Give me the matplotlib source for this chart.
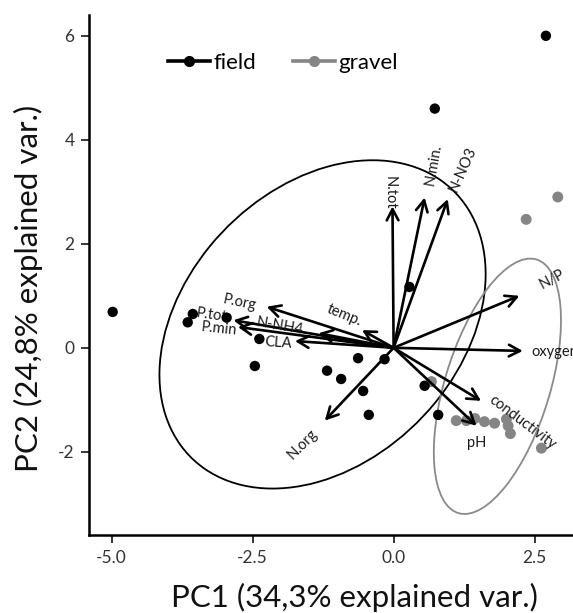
import numpy as np
import matplotlib
matplotlib.use("Agg")
from matplotlib import pyplot as plt
from matplotlib.patches import Ellipse
from matplotlib.lines import Line2D

plt.rcParams['font.family'] = ['Lato', 'DejaVu Sans']

# Puntos (scores) por grupo
field_x = [-4.98, 2.70, 0.73, 0.28, -3.56, -3.65, -2.96, -2.38, -2.46,
           -0.63, -0.16, -1.18, -0.93, -0.54, -0.44, 0.55, 0.79]
field_y = [0.69, 6.00, 4.60, 1.17, 0.65, 0.49, 0.58, 0.17, -0.35,
           -0.20, -0.22, -0.44, -0.60, -0.83, -1.29, -0.73, -1.29]

gravel_x = [2.35, 2.91, 0.67, 1.11, 1.29, 1.44, 1.61, 1.79, 2.00, 2.03, 2.07, 2.62]
gravel_y = [2.47, 2.90, -0.65, -1.40, -1.40, -1.36, -1.42, -1.45, -1.37, -1.50, -1.65, -1.93]

# Vectores de carga (variables)
variables = ['N.tot', 'N.min.', 'N-NO3', 'N/P', 'oxygen', 'conductivity', 'pH',
             'N.org', 'temp.', 'P.org', 'P.tot', 'P.min', 'N-NH4', 'CLA']
load_x = [-0.02, 0.55, 0.96, 2.23, 2.29, 1.55, 1.47, -1.22, -0.56, -2.25, -2.84, -2.76, -1.33, -1.75]
load_y = [2.72, 2.89, 2.86, 1.00, -0.06, -1.02, -1.50, -1.40, 0.34, 0.79, 0.53, 0.40, 0.28, 0.13]

# Posicion y angulo de las etiquetas
label_x = [-0.07, 0.70, 1.23, 2.80, 2.44, 2.29, 1.47, -1.61, -0.87, -2.73, -3.22, -3.09, -2.02, -2.05]
label_y = [2.99, 3.53, 3.43, 1.32, -0.09, -1.44, -1.84, -1.85, 0.62, 0.87, 0.63, 0.36, 0.42, 0.10]
label_rot = [-90, 80, 66, 28, 0, -37, 0, 45, -22, -12, -8, -6, -10, -4]
label_ha = ['center'] * 14
label_ha[4] = 'left'

# Elipses (centro, ancho, alto, angulo)
ell_field = ((-1.26, 0.45), 6.95, 5.00, 53.0)
ell_gravel = ((1.84, -0.74), 5.07, 1.87, 74.5)

fig = plt.figure(figsize=(5.73, 6.13), dpi=100)
ax = fig.add_axes([89 / 573, 1 - 535 / 613, 1 - 89 / 573, (535 - 15) / 613])

gris = '#858585'

for (c, w, h, a), col in [(ell_field, 'black'), (ell_gravel, '#8a8a8a')]:
    ax.add_patch(Ellipse(c, w, h, angle=a, fill=False, ec=col, lw=1.3, zorder=1))

ax.scatter(gravel_x, gravel_y, s=62, color=gris, edgecolors='none', zorder=2)

for vx, vy in zip(load_x, load_y):
    ax.annotate('', xy=(vx, vy), xytext=(0, 0),
                arrowprops=dict(arrowstyle='->,head_length=0.8,head_width=0.42',
                                lw=1.9, color='black', shrinkA=0, shrinkB=0),
                zorder=3)

for name, tx, ty, r, ha in zip(variables, label_x, label_y, label_rot, label_ha):
    ax.text(tx, ty, name, rotation=r, ha=ha, va='center', fontsize=10.5,
            color='#1a1a1a', zorder=4, rotation_mode='anchor')

ax.scatter(field_x, field_y, s=56, color='black', edgecolors='none', zorder=5)

handles = [Line2D([], [], color='black', lw=2.6, marker='o', ms=7),
           Line2D([], [], color=gris, lw=2.6, marker='o', ms=7)]
ax.legend(handles, ['field', 'gravel'], loc='center left',
          bbox_to_anchor=(0.163, 1 - (63 - 15) / 520), ncol=2, frameon=False,
          fontsize=16, handlelength=1.9, handletextpad=0.15, columnspacing=1.65,
          borderaxespad=0, borderpad=0)

ax.set_xlim(-5.40, 3.18)
ax.set_ylim(-3.60, 6.40)
ax.set_xticks([-5.0, -2.5, 0.0, 2.5])
ax.set_xticklabels(['-5.0', '-2.5', '0.0', '2.5'])
ax.set_yticks([-2, 0, 2, 4, 6])
ax.set_yticklabels(['-2', '0', '2', '4', '6'])
ax.tick_params(labelsize=12.5, labelcolor='#333333', length=5.5, width=1.1,
               color='black', pad=5)

for s in ['top', 'right']:
    ax.spines[s].set_visible(False)
for s in ['left', 'bottom']:
    ax.spines[s].set_linewidth(1.8)

ax.set_xlabel('PC1 (34,3% explained var.)', fontsize=22.5, color='#111111', va='baseline')
ax.xaxis.set_label_coords((354 - 89) / 484, (535 - 607) / 520)
ax.set_ylabel('PC2 (24,8% explained var.)', fontsize=22.5, color='#111111', va='center')
ax.yaxis.set_label_coords((28 - 89) / 484, (535 - 288) / 520)

fig.savefig('out.png', dpi=100)
